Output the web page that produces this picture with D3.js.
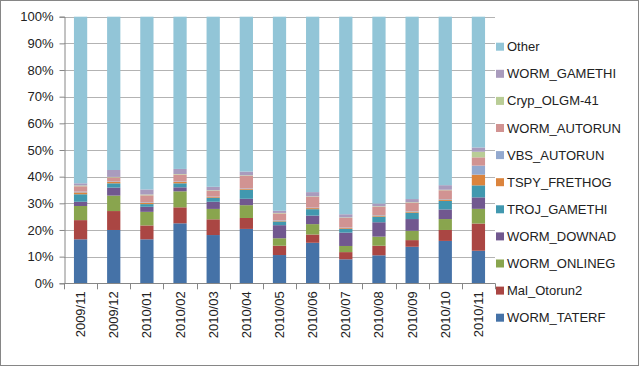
<!DOCTYPE html>
<html>
<head>
<meta charset="utf-8">
<script src="https://cdn.jsdelivr.net/npm/d3@7"></script>
<style>
  body { margin: 0; background: #fff; }
  svg { display: block; font-family: "Liberation Sans", Arial, sans-serif; }
</style>
</head>
<body>
<div id="box"></div>
<script>
// months on the x axis
var months = ["2009/11", "2009/12", "2010/01", "2010/02", "2010/03", "2010/04", "2010/05",
  "2010/06", "2010/07", "2010/08", "2010/09", "2010/10", "2010/11"];

// series, bottom to top (percent of total)
var seriesNames = ["WORM_TATERF", "Mal_Otorun2", "WORM_ONLINEG", "WORM_DOWNAD", "TROJ_GAMETHI",
  "TSPY_FRETHOG", "VBS_AUTORUN", "WORM_AUTORUN", "Cryp_OLGM-41", "WORM_GAMETHI", "Other"];

var wormTaterf  = [16.5, 20.0, 16.5, 22.5, 18.1, 20.4, 10.6, 15.2, 9.0, 10.5, 13.7, 15.9, 12.2];
var malOtorun2  = [7.2, 7.1, 5.2, 6.0, 5.9, 4.1, 3.5, 3.1, 2.7, 3.6, 2.5, 4.1, 10.2];
var wormOnlineg = [5.3, 5.8, 5.1, 6.0, 3.9, 4.8, 2.8, 3.9, 2.3, 3.4, 3.5, 4.1, 5.5];
var wormDownad  = [1.6, 3.0, 1.9, 1.5, 2.7, 2.4, 4.9, 3.2, 5.0, 5.4, 4.4, 3.6, 4.3];
var trojGamethi = [2.8, 1.6, 1.0, 1.5, 1.4, 3.4, 1.4, 2.4, 1.4, 2.1, 2.4, 3.2, 4.5];
var tspyFrethog = [0.7, 0.5, 0.5, 0.5, 0.3, 0.3, 0.2, 0.4, 0.3, 0.4, 0.3, 0.5, 4.0];
var vbsAutorun  = [0.3, 0.2, 0.2, 0.2, 0.2, 0.2, 0.2, 0.2, 0.2, 0.2, 0.2, 0.2, 3.4];
var wormAutorun = [2.0, 1.5, 2.6, 2.6, 2.2, 4.7, 2.6, 4.0, 3.6, 3.1, 3.2, 3.3, 3.1];
var crypOlgm    = [0.3, 0.2, 0.3, 0.2, 0.2, 0.2, 0.2, 0.2, 0.2, 0.2, 0.2, 0.2, 2.1];
var wormGamethi = [0.8, 2.6, 1.9, 1.9, 1.3, 1.4, 0.8, 1.6, 1.2, 1.0, 1.2, 1.7, 1.6];
var other       = [62.5, 57.5, 64.8, 57.1, 63.8, 58.1, 72.8, 65.8, 74.1, 70.1, 68.4, 63.2, 49.0];

var seriesColors = ["#4572A7", "#AA4643", "#89A54E", "#71588F", "#4198AF", "#DB843D",
  "#93A9CF", "#D19392", "#B9CD96", "#A99BBD", "#92C5D7"];

var yTicks = [0, 10, 20, 30, 40, 50, 60, 70, 80, 90, 100];

var width = 639, height = 366;
var plotLeft = 64, plotRight = 495, plotTop = 16.7, plotBottom = 283.3;

var allSeries = [wormTaterf, malOtorun2, wormOnlineg, wormDownad, trojGamethi, tspyFrethog,
  vbsAutorun, wormAutorun, crypOlgm, wormGamethi, other];

// table for d3.stack, normalised to 100%
var rows = months.map(function(m, i) {
  var row = { month: m };
  var total = 0;
  allSeries.forEach(function(s) { total += s[i]; });
  seriesNames.forEach(function(name, k) { row[name] = allSeries[k][i] / total * 100; });
  return row;
});

var stacked = d3.stack().keys(seriesNames)(rows);

var svg = d3.select("#box").append("svg")
  .attr("width", width)
  .attr("height", height);

svg.append("rect")
  .attr("x", 0.5).attr("y", 0.5)
  .attr("width", width - 1).attr("height", height - 1)
  .attr("fill", "#fff")
  .attr("stroke", "#868686");

var x = d3.scaleBand().domain(months).range([plotLeft, plotRight]).paddingInner(0.6).paddingOuter(0.3);
var y = d3.scaleLinear().domain([0, 100]).range([plotBottom, plotTop]);

// gridlines
svg.append("g")
  .selectAll("line")
  .data(yTicks.slice(1))
  .enter()
  .append("line")
  .attr("x1", plotLeft).attr("x2", plotRight)
  .attr("y1", function(d) { return Math.round(y(d)) + 0.5; })
  .attr("y2", function(d) { return Math.round(y(d)) + 0.5; })
  .attr("stroke", "#b3b3b3")
  .attr("stroke-width", 1);

// bars
svg.append("g")
  .selectAll("g")
  .data(stacked)
  .enter()
  .append("g")
  .attr("fill", function(d, i) { return seriesColors[i]; })
  .selectAll("rect")
  .data(function(d) { return d; })
  .enter()
  .append("rect")
  .attr("x", function(d) { return x(d.data.month); })
  .attr("width", x.bandwidth())
  .attr("y", function(d) { return y(d[1]); })
  .attr("height", function(d) { return y(d[0]) - y(d[1]); });

// y axis
var yAxis = d3.axisLeft(y)
  .tickValues(yTicks)
  .tickFormat(function(d) { return d + "%"; })
  .tickSize(5)
  .tickPadding(6);

var gy = svg.append("g")
  .attr("transform", "translate(" + (plotLeft + 0.5) + ",0)")
  .call(yAxis);
gy.select(".domain").attr("stroke", "#868686");
gy.selectAll(".tick line").attr("stroke", "#868686");
gy.selectAll(".tick text")
  .attr("fill", "#222")
  .style("font-size", "13px");

// x axis: line plus ticks at category boundaries
var step = x.step();
svg.append("line")
  .attr("x1", plotLeft).attr("x2", plotRight)
  .attr("y1", Math.round(plotBottom) + 0.5).attr("y2", Math.round(plotBottom) + 0.5)
  .attr("stroke", "#868686");

svg.append("g")
  .selectAll("line")
  .data(d3.range(months.length + 1))
  .enter()
  .append("line")
  .attr("x1", function(i) { return Math.round(plotLeft + i * step) + 0.5; })
  .attr("x2", function(i) { return Math.round(plotLeft + i * step) + 0.5; })
  .attr("y1", plotBottom)
  .attr("y2", plotBottom + 6)
  .attr("stroke", "#868686");

svg.append("g")
  .selectAll("text")
  .data(months)
  .enter()
  .append("text")
  .attr("transform", function(d) {
    return "translate(" + (x(d) + x.bandwidth() / 2 + 4.5) + "," + (plotBottom + 8) + ") rotate(-90)";
  })
  .attr("text-anchor", "end")
  .attr("fill", "#222")
  .style("font-size", "13px")
  .text(function(d) { return d; });

// legend, top entry is the top series
var legendOrder = seriesNames.slice().reverse();
var legend = svg.append("g")
  .selectAll("g")
  .data(legendOrder)
  .enter()
  .append("g")
  .attr("transform", function(d, i) { return "translate(496," + (46.7 + i * 27.1) + ")"; });

legend.append("rect")
  .attr("x", 0).attr("y", -4)
  .attr("width", 8).attr("height", 8)
  .attr("fill", function(d) { return seriesColors[seriesNames.indexOf(d)]; });

legend.append("text")
  .attr("x", 11)
  .attr("y", 0)
  .attr("dy", "0.35em")
  .attr("fill", "#222")
  .style("font-size", "13px")
  .text(function(d) { return d; });
</script>
</body>
</html>
